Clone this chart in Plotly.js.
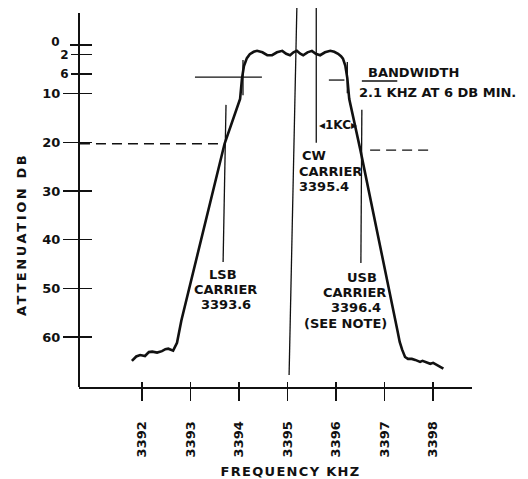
<!DOCTYPE html>
<html>
<head>
<meta charset="utf-8">
<script src="https://cdn.plot.ly/plotly-3.0.1.min.js"></script>
<style>
html,body{margin:0;padding:0;background:#fff;}
#chart{width:528px;height:479px;}
</style>
</head>
<body>
<div id="chart"></div>
<script>
// ---- data ----
const freqKHz = [3391.79,3391.88,3391.96,3392.06,3392.14,3392.21,3392.31,3392.41,3392.48,3392.54,3392.64,3392.72,3392.81,3393.70,3394.02,3394.06,
  3394.10,3394.16,3394.22,3394.30,3394.37,3394.48,3394.58,3394.68,3394.78,3394.89,3394.97,3395.05,3395.12,3395.19,3395.26,3395.32,3395.41,3395.50,3395.58,3395.67,3395.77,3395.88,3395.96,3396.04,3396.10,3396.14,3396.19,3396.23,3396.27,
  3396.50,3397.26,3397.31,3397.36,3397.42,3397.48,3397.56,3397.63,3397.73,3397.78,3397.83,3397.94,3398.00,3398.05,3398.10,3398.16,3398.21];
const attenDB = [64.9,64.0,63.7,63.9,63.1,63.0,63.2,62.9,62.5,62.4,62.8,61.2,56.6,20.3,11.1,6.8,
  4.3,2.7,1.9,1.4,1.2,1.5,2.1,2.1,1.5,1.2,1.8,2.1,1.5,1.2,1.8,2.1,1.5,1.2,1.8,2.1,1.5,1.2,1.4,1.8,2.3,2.8,4.3,6.8,11.1,
  21.6,58.5,61.0,62.6,64.1,64.5,64.5,64.7,65.1,64.9,65.1,65.5,65.3,65.6,65.9,66.1,66.5];

const xTickVals = [3392,3393,3394,3395,3396,3397,3398];
const xTickText = ["3392","3393","3394","3395","3396","3397","3398"];
const yTickMain = [10,20,30,40,50,60];
const yTickZero = [0];
const yTickTop = [2,6];
const yTickAll = [0,2,6,10,20,30,40,50,60];

// reference / carrier lines (kHz, dB)
const centerLineX = [3395.19,3395.03];  const centerLineY = [-7.6,67.8];
const cwLineX = [3395.59,3395.59];      const cwLineY = [-7.6,20.1];
const usbLineX = [3396.53,3396.51];     const usbLineY = [13.3,44.8];
const lsbLineX = [3393.73,3393.67];     const lsbLineY = [12.3,44.6];
const bw6LeftX = [3393.09,3394.47];     const bw6LeftY = [6.6,6.6];
const bw6RightX = [3395.85,3396.17,null,3396.53,3397.26]; const bw6RightY = [7.2,7.2,null,7.4,7.4];
const bwMarkLX = [3394.08,3394.08];     const bwMarkLY = [3.1,10.3];
const bwMarkRX = [3396.23,3396.23];     const bwMarkRY = [3.5,9.9];
const dash20LeftX = [3390.72,3393.57];  const dash20LeftY = [20.3,20.3];
const dash20RightX = [3396.70,3397.94]; const dash20RightY = [21.6,21.6];

// ---- drawing ----
const black = '#111';
const thin = {color: black, width: 1.3};
function seg(x, y, line) {
  return {x: x, y: y, type: 'scatter', mode: 'lines', line: line || thin, hoverinfo: 'skip', showlegend: false, connectgaps: false};
}
const traces = [
  {x: freqKHz, y: attenDB, type: 'scatter', mode: 'lines', line: {color: black, width: 2.6, shape: 'linear'}, showlegend: false},
  seg(centerLineX, centerLineY),
  seg(cwLineX, cwLineY),
  seg(usbLineX, usbLineY),
  seg(lsbLineX, lsbLineY),
  seg(bw6LeftX, bw6LeftY),
  seg(bw6RightX, bw6RightY),
  seg(bwMarkLX, bwMarkLY),
  seg(bwMarkRX, bwMarkRY),
  seg(dash20LeftX, dash20LeftY, {color: black, width: 1.4, dash: '10px,6px'}),
  seg(dash20RightX, dash20RightY, {color: black, width: 1.4, dash: '10px,6px'}),
  {x: [], y: [], xaxis: 'x2', yaxis: 'y', type: 'scatter', showlegend: false},
  {x: [], y: [], xaxis: 'x', yaxis: 'y2', type: 'scatter', showlegend: false},
  {x: [], y: [], xaxis: 'x', yaxis: 'y3', type: 'scatter', showlegend: false},
  {x: [], y: [], xaxis: 'x', yaxis: 'y4', type: 'scatter', showlegend: false}
];

const tickFont = {family: 'DejaVu Sans', size: 13, color: black, weight: 'bold'};
const smallTickFont = {family: 'DejaVu Sans', size: 12, color: black, weight: 'bold'};
const lblFont = {family: 'DejaVu Sans', size: 13, color: black, weight: 'bold'};
const xr = [3390.70, 3398.80];
const yr = [70.27, -8.22];

function ann(text, x, y, xanchor, extra) {
  return Object.assign({text: text, x: x, y: y, xref: 'x', yref: 'y', xanchor: xanchor || 'center', yanchor: 'middle',
    showarrow: false, font: lblFont, borderpad: 0}, extra || {});
}

const layout = {
  width: 528, height: 479,
  margin: {l: 79, r: 56, t: 5, b: 92},
  paper_bgcolor: '#fff', plot_bgcolor: '#fff',
  showlegend: false,
  xaxis: {range: xr, tickvals: xTickVals, ticktext: xTickText, tickangle: -90,
    ticks: 'outside', ticklen: 12, tickwidth: 1.5, tickcolor: black,
    showline: true, linecolor: black, linewidth: 2, showgrid: false, zeroline: false,
    tickfont: tickFont, ticklabelstandoff: 15},
  xaxis2: {range: xr, overlaying: 'x', anchor: 'y', side: 'bottom', tickvals: xTickVals,
    ticks: 'inside', ticklen: 5, tickwidth: 1.5, tickcolor: black, showticklabels: false,
    showline: false, showgrid: false, zeroline: false},
  yaxis: {range: yr, tickvals: yTickMain, ticktext: yTickMain.map(String),
    ticks: 'outside', ticklen: 15, tickwidth: 1.5, tickcolor: black,
    showline: false, showgrid: false, zeroline: false,
    tickfont: tickFont},
  yaxis2: {range: yr, overlaying: 'y', anchor: 'x', side: 'left', tickvals: yTickAll,
    ticks: 'inside', ticklen: 13, tickwidth: 1.5, tickcolor: black, showticklabels: false,
    showline: false, showgrid: false, zeroline: false},
  yaxis3: {range: yr, overlaying: 'y', anchor: 'x', side: 'left', tickvals: yTickTop, ticktext: yTickTop.map(String),
    ticks: 'outside', ticklen: 7, tickwidth: 1.5, tickcolor: black,
    showline: false, showgrid: false, zeroline: false, tickfont: smallTickFont},
  yaxis4: {range: yr, overlaying: 'y', anchor: 'x', side: 'left', tickvals: yTickZero, ticktext: yTickZero.map(String),
    ticks: 'outside', ticklen: 8, tickwidth: 1.5, tickcolor: black, ticklabelstandoff: 8, ticklabelshift: 3,
    showline: false, showgrid: false, zeroline: false, tickfont: smallTickFont},
  shapes: [
    {type: 'line', xref: 'paper', x0: 0, x1: 0, yref: 'y', y0: -6.6, y1: yr[0], line: {color: black, width: 2}}
  ],
  annotations: [
    ann('BANDWIDTH', 3396.64, 5.75, 'left'),
    ann('2.1 KHZ AT 6 DB MIN.', 3396.45, 9.86, 'left'),
    ann('◂1KC▸', 3396.04, 16.4, 'center', {font: {family: 'DejaVu Sans', size: 12, color: black, weight: 'bold'}}),
    ann('CW', 3395.55, 22.6),
    ann('CARRIER', 3395.215, 25.9, 'left'),
    ann('3395.4', 3395.215, 29.1, 'left'),
    ann('LSB', 3393.67, 47.1),
    ann('CARRIER', 3393.71, 50.25),
    ann('3393.6', 3393.73, 53.4),
    ann('USB', 3396.53, 47.7),
    ann('CARRIER', 3396.37, 50.9),
    ann('3396.4', 3396.41, 54.0),
    ann('(SEE NOTE)', 3396.20, 57.3),
    {text: 'ATTENUATION DB', xref: 'paper', yref: 'y', x: -0.145, y: 39.0, textangle: -90,
      xanchor: 'center', yanchor: 'middle', showarrow: false, font: lblFont},
    {text: 'FREQUENCY KHZ', xref: 'x', yref: 'paper', x: 3395.05, y: -0.2225,
      xanchor: 'center', yanchor: 'middle', showarrow: false, font: lblFont}
  ]
};

Plotly.newPlot('chart', traces, layout, {staticPlot: true, displayModeBar: false}).then(function (gd) {
  const n = layout.annotations.length;
  const spacing = {};
  spacing[n - 2] = '2.6px';  // ATTENUATION DB
  spacing[n - 1] = '1.3px';  // FREQUENCY KHZ
  Object.keys(spacing).forEach(function (i) {
    const t = gd.querySelector('g.annotation[data-index="' + i + '"] text');
    if (t) t.style.letterSpacing = spacing[i];
  });
});
</script>
</body>
</html>
